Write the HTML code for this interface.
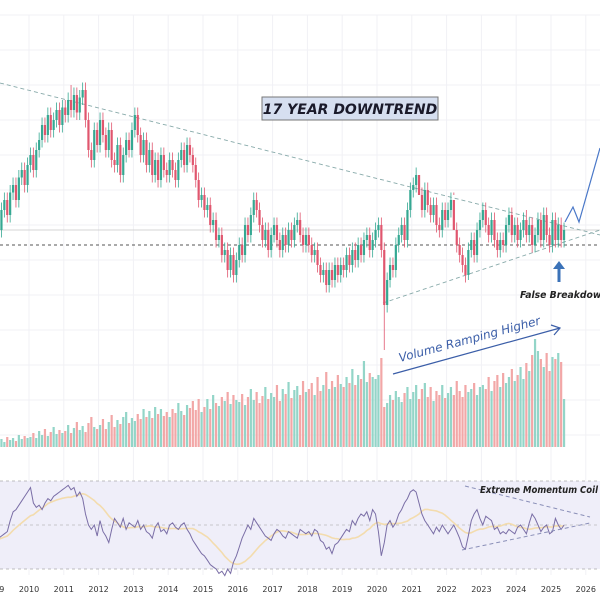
<!DOCTYPE html>
<html><head><meta charset="utf-8"><style>
html,body{margin:0;padding:0;background:#fff;}
svg{display:block;font-family:"DejaVu Sans","Liberation Sans",sans-serif;}
</style></head><body>
<svg id="chart" width="600" height="600" viewBox="0 0 600 600" xmlns="http://www.w3.org/2000/svg">
<g id="grid"></g>
<rect x="0" y="481" width="600" height="88" fill="#efeef9"/>
<line x1="0" y1="481" x2="600" y2="481" stroke="#aaa" stroke-dasharray="3,3" stroke-width="0.8"/>
<line x1="0" y1="525" x2="600" y2="525" stroke="#bbb" stroke-dasharray="3,3" stroke-width="0.8"/>
<line x1="0" y1="569" x2="600" y2="569" stroke="#aaa" stroke-dasharray="3,3" stroke-width="0.8"/>
<g id="vol"></g>
<line x1="0" y1="230" x2="600" y2="230" stroke="#c8c8c8" stroke-width="0.8"/>
<line x1="0" y1="245" x2="600" y2="245" stroke="#555" stroke-dasharray="3,3" stroke-width="1"/>
<line x1="0" y1="83" x2="600" y2="235" stroke="#8aa" stroke-dasharray="4,3" stroke-width="0.9"/>
<line x1="383" y1="303" x2="600" y2="230" stroke="#8aa" stroke-dasharray="4,3" stroke-width="0.9"/>
<g id="candles"></g>
<polyline points="565,222 573,207 579,222 600,148" fill="none" stroke="#4a78c8" stroke-width="1.2"/>
<g><line x1="559" y1="282" x2="559" y2="268" stroke="#3b72b8" stroke-width="3"/><polygon points="553,269 565,269 559,261" fill="#3b72b8"/></g>
<text x="520" y="298" font-size="10" font-style="italic" font-weight="bold" fill="#222" textLength="88" lengthAdjust="spacingAndGlyphs">False Breakdown</text>
<g><rect x="262" y="97" width="176" height="23" fill="#d6dff0" stroke="#777" stroke-width="1"/>
<text x="350" y="114" text-anchor="middle" font-size="14" font-style="italic" font-weight="bold" fill="#1a1a2a">17 YEAR DOWNTREND</text></g>
<text x="400" y="362" font-size="12" font-style="italic" fill="#3b5ea8" transform="rotate(-15 400 362)">Volume Ramping Higher</text>
<g><line x1="393" y1="374" x2="560" y2="328" stroke="#3b5ea8" stroke-width="1.2"/><polyline points="551,325 560,328 554,335" fill="none" stroke="#3b5ea8" stroke-width="1.2"/></g>
<polyline id="rsiMa" fill="none" stroke="#f3dcae" stroke-width="1.6"/>
<polyline id="rsiLine" fill="none" stroke="#7a6ea6" stroke-width="1"/>
<line x1="465" y1="486" x2="590" y2="517" stroke="#8a8fb8" stroke-dasharray="4,3" stroke-width="1"/>
<line x1="462" y1="550" x2="590" y2="523" stroke="#8a8fb8" stroke-dasharray="4,3" stroke-width="1"/>
<text x="480" y="493" font-size="10" font-style="italic" font-weight="bold" fill="#222" textLength="118" lengthAdjust="spacingAndGlyphs">Extreme Momentum Coil</text>
<g id="xaxis"></g>
</svg>
<script>
const years=[2009,2010,2011,2012,2013,2014,2015,2016,2017,2018,2019,2020,2021,2022,2023,2024,2025,2026];
const closes=[56,52,60,64,58,67,70,64,73,76,70,78,
82,76,84,88,94,90,98,92,96,100,94,101,
98,104,100,106,99,105,108,96,84,80,92,86,
96,90,84,92,80,78,86,74,82,88,84,92,
98,90,82,88,78,84,74,80,72,82,76,74,
80,76,72,80,84,78,86,82,78,72,64,66,
60,62,54,56,48,50,42,44,36,42,34,40,
46,42,54,50,58,64,60,54,48,52,44,50,
54,48,44,50,46,52,48,54,56,50,46,50,
46,42,44,38,34,36,30,36,32,38,34,38,
36,42,38,44,40,46,42,48,50,44,48,52,
54,44,22,32,38,36,46,50,54,48,60,68,
70,74,66,60,68,62,58,62,54,52,60,56,
60,64,52,46,42,38,34,44,48,42,52,56,
60,54,50,56,48,44,48,46,54,58,50,54,
48,52,56,50,54,46,50,56,48,58,50,46,
56,48,54,48,52];
const wickIdx=[26,134,146,158,163,183];
const wickVal=[110,4,77,66,32,60];
const volumes=[6,4,8,5,10,7,9,6,12,8,11,9,
10,14,9,16,12,18,11,15,20,13,17,14,
16,22,14,19,25,17,21,15,24,30,20,18,
22,28,18,25,32,20,27,23,30,35,24,29,
26,33,28,38,30,36,29,40,33,38,31,35,
30,38,34,44,36,32,42,39,46,37,48,35,
40,48,38,52,44,41,50,46,55,43,52,47,
45,53,42,50,58,47,55,44,51,60,48,54,
50,62,46,58,53,65,49,57,61,52,66,55,
58,64,52,70,56,62,75,58,66,60,72,63,
60,70,64,78,62,72,68,86,65,74,70,68,
72,89,40,44,52,47,56,50,45,54,60,48,
55,62,48,58,64,50,60,46,56,52,62,49,
54,60,52,66,56,50,62,55,58,64,52,60,
62,58,70,56,66,72,60,74,64,70,78,66,
72,80,68,84,76,92,108,96,88,80,94,76,
90,88,94,85,48];
const rsi=[43,44,45,46,47,52,56,57,59,61,63,65,
67,60,58,59,57,60,62,61,63,64,65,66,
67,68,66,67,63,65,62,55,50,48,50,45,
52,47,45,42,48,53,51,49,53,48,51,50,
49,52,48,50,47,46,44,49,51,47,48,46,
50,51,49,48,50,51,48,46,43,41,39,37,
36,34,32,31,30,28,29,27,30,28,33,36,
40,44,47,50,48,53,51,49,47,45,44,43,
46,48,47,45,44,47,46,45,44,48,47,46,
47,45,48,47,43,42,39,40,37,41,42,44,
46,48,47,52,50,53,55,54,56,52,57,55,
47,36,42,50,52,49,51,55,57,60,62,65,
66,65,60,55,52,50,48,46,49,47,50,48,
46,48,50,47,44,40,39,45,52,55,57,53,
50,54,53,52,48,49,46,47,46,48,47,46,
49,50,48,46,51,55,53,50,47,49,50,46,
47,53,50,48,50];
const NS='http://www.w3.org/2000/svg';
const xOfYear=y=>29+(y-2010)*34.8;
const xOf=i=>xOfYear(2009)+(i+0.5)*2.9;
const yP=p=>360-2.5*p;
const yV=v=>447-v;
const yR=r=>525-(r-50)*2.2;
function mk(tag,attrs,parent){const e=document.createElementNS(NS,tag);for(const k in attrs)e.setAttribute(k,attrs[k]);parent.appendChild(e);return e;}
const grid=document.getElementById('grid');
for(let gy=15;gy<460;gy+=35){const l=mk('line',{x1:0,x2:600,y1:gy,y2:gy,stroke:'#f1f1f5','stroke-width':1},grid);

}
const xa=document.getElementById('xaxis');
years.forEach(y=>{const x=xOfYear(y);
const l=mk('line',{x1:x,x2:x,y1:15,y2:575,stroke:'#f1f1f5','stroke-width':1},grid);


const t=mk('text',{x:x,y:592,'text-anchor':'middle','font-size':8,fill:'#333'},xa);t.textContent=y;

});
const cg=document.getElementById('candles'),vg=document.getElementById('vol');
closes.forEach((c,i)=>{const o=i?closes[i-1]:c-2;const up=c>=o;const col=up?'#35a892':'#e0566e';
let hi=Math.max(o,c)+3,lo=Math.min(o,c)-3;const w=wickIdx.indexOf(i);
if(w>=0){if(wickVal[w]>hi)hi=wickVal[w];else lo=wickVal[w];}
const x=xOf(i);
const wk=mk('line',{x1:x,x2:x,y1:yP(hi),y2:yP(lo),stroke:col,'stroke-width':0.8},cg);


const yt=yP(Math.max(o,c)),yb=yP(Math.min(o,c));
const b=mk('rect',{x:x-1.1,y:yt,width:2.2,height:Math.max(1,yb-yt),fill:col},cg);


const v=mk('rect',{x:x-1.1,y:yV(volumes[i]),width:2.2,height:volumes[i],fill:up?'#93d5c8':'#f2a7a7'},vg);

});
document.getElementById('rsiLine').setAttribute('points',rsi.map((r,i)=>xOf(i).toFixed(1)+','+yR(r).toFixed(1)).join(' '));
const ma=[];for(let i=0;i<rsi.length;i++){const s=rsi.slice(Math.max(0,i-13),i+1);ma.push(s.reduce((a,b)=>a+b,0)/s.length);}
document.getElementById('rsiMa').setAttribute('points',ma.map((r,i)=>xOf(i).toFixed(1)+','+yR(r).toFixed(1)).join(' '));
</script>
</body></html>
